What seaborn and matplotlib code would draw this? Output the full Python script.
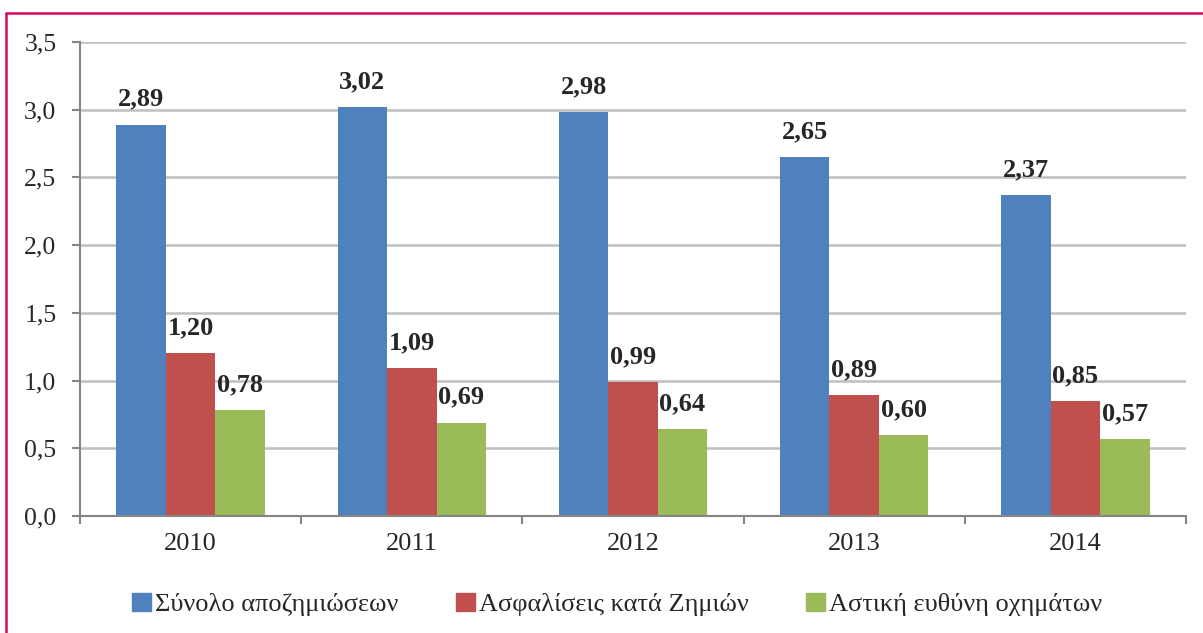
import matplotlib
matplotlib.use('Agg')
import matplotlib.pyplot as plt
import pandas as pd
import seaborn as sns
from matplotlib.ticker import FuncFormatter, FixedLocator
from matplotlib.lines import Line2D

# Data
years = ['2010', '2011', '2012', '2013', '2014']
series_names = ['Σύνολο αποζημιώσεων', 'Ασφαλίσεις κατά Ζημιών', 'Αστική ευθύνη οχημάτων']
total_claims = [2.89, 3.02, 2.98, 2.65, 2.37]
damage_ins = [1.20, 1.09, 0.99, 0.89, 0.85]
motor_liab = [0.78, 0.69, 0.64, 0.60, 0.57]
colors = ['#4F81BD', '#C0504D', '#9BBB59']

df = pd.DataFrame({
    'year': years * 3,
    'series': [series_names[0]] * 5 + [series_names[1]] * 5 + [series_names[2]] * 5,
    'value': total_claims + damage_ins + motor_liab,
})

sns.set_style('white')
plt.rcParams['font.family'] = ['Liberation Serif', 'DejaVu Serif']

fig = plt.figure(figsize=(12.03, 6.33), dpi=100)
ax = fig.add_axes([80 / 1203, 1 - 516 / 633, (1186 - 80) / 1203, (516 - 42) / 633])

sns.barplot(data=df, x='year', y='value', hue='series', order=years,
            hue_order=series_names, palette=colors, saturation=1,
            width=0.67, errorbar=None, linewidth=0, ax=ax)

def comma(v, pos=None):
    return f'{v:.1f}'.replace('.', ',')

ax.set_ylim(0, 3.5)
ax.set_xlim(-0.5, 4.5)
ax.yaxis.set_major_locator(FixedLocator([i * 0.5 for i in range(8)]))
ax.yaxis.set_major_formatter(FuncFormatter(comma))
ax.yaxis.grid(True, color='#BFBFBF', linewidth=1.8)
ax.set_axisbelow(True)

# category boundary ticks on the x axis
ax.xaxis.set_minor_locator(FixedLocator([-0.5, 0.5, 1.5, 2.5, 3.5, 4.5]))
ax.tick_params(axis='x', which='major', length=0, labelsize=19, pad=12)
ax.tick_params(axis='x', which='minor', length=6, width=1.5, color='#868686', direction='out', bottom=True)
ax.tick_params(axis='y', length=6, width=1.5, color='#868686', direction='out', labelsize=18.5, pad=11, left=True)

for s in ['top', 'right']:
    ax.spines[s].set_visible(False)
for s in ['left', 'bottom']:
    ax.spines[s].set_color('#868686')
    ax.spines[s].set_linewidth(1.5)

ax.set_xlabel('')
ax.set_ylabel('')

for cont in ax.containers:
    labels = [f'{b.get_height():.2f}'.replace('.', ',') for b in cont]
    ax.bar_label(cont, labels=labels, padding=10, fontsize=19, fontweight='bold')

ax.get_legend().remove()
handles = [plt.Rectangle((0, 0), 1, 1, color=c) for c in colors]
fig.legend(handles, series_names, loc='center', bbox_to_anchor=(0.513, 0.045),
           ncol=3, frameon=False, fontsize=19, handlelength=0.7, handleheight=0.7,
           handletextpad=0.15, columnspacing=2.2)

# pink frame (left and top edges visible)
frame_col = '#D9065F'
fig.add_artist(Line2D([6 / 1203, 6 / 1203], [0, 1 - 13 / 633], color=frame_col, linewidth=1.8))
fig.add_artist(Line2D([6 / 1203, 1], [1 - 13 / 633, 1 - 13 / 633], color=frame_col, linewidth=1.8))

fig.savefig('out.png', dpi=100)
